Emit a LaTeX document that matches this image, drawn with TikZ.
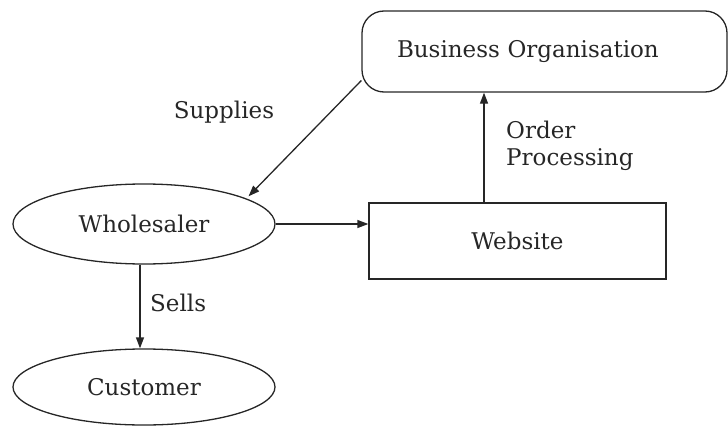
\documentclass[tikz,border=0pt]{standalone}
\usepackage{fontspec}
\setmainfont{DejaVu Serif}
\usetikzlibrary{shapes.geometric,arrows.meta,calc}
\begin{document}
\begin{tikzpicture}[x=1pt,y=-1pt,
  txt/.style={font=\fontsize{23}{27}\selectfont, text=black!85, inner sep=0pt},
  conn/.style={line width=1.3pt, draw=black!85, -{Triangle[length=11pt,width=8pt]}},
  oval/.style={ellipse, draw=black!85, line width=1.3pt, minimum width=262pt, minimum height=80pt, inner sep=0pt, txt},
  box/.style={rectangle, draw=black!85, line width=1.3pt, inner sep=0pt, txt}]
\useasboundingbox (0,0) rectangle (728,428);
\node[box, rounded corners=22pt, minimum width=365pt, minimum height=81pt, text width=295pt, align=left] (bo) at (544.5,51.5) {Business Organisation};
\node[box, minimum width=297pt, minimum height=76pt] (ws) at (517.5,241) {Website};
\node[oval] (wh) at (144,224) {Wholesaler};
\node[oval, minimum height=76pt] (cu) at (144,387) {Customer};
\node[txt] (supplies) at (224,112) {Supplies};
\node[txt, anchor=west] (sells) at (150,303) {Sells};
\node[txt, anchor=west, align=left] (order) at (506,146) {Order\\Processing};
\draw[conn, shorten >=3pt] (bo.189.5) -- (wh.14);
\draw[conn] (wh.east) -- (wh.east -| ws.west);
\draw[conn] ([xshift=-4pt]wh.south) -- ([xshift=-4pt]cu.north);
\draw[conn] ([xshift=-33.5pt]ws.north) -- ([xshift=-33.5pt]ws.north |- bo.south);
\end{tikzpicture}
\end{document}
